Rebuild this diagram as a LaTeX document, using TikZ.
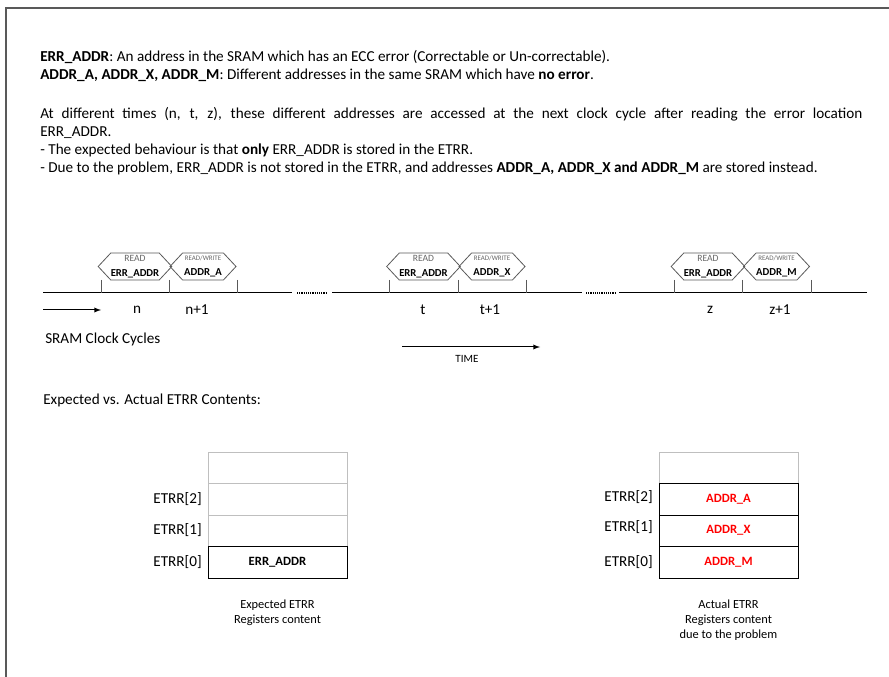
\documentclass[tikz,border=0pt]{standalone}
\usepackage{fontspec}
\setmainfont{Carlito}
\usetikzlibrary{shapes.symbols}

\newlength{\du}
\setlength{\du}{0.75pt}

\definecolor{framegray}{rgb}{0.35, 0.35, 0.35}
\definecolor{taggray}{rgb}{0.40, 0.40, 0.40}
\definecolor{cellgray}{rgb}{0.75, 0.75, 0.75}
\definecolor{addrred}{rgb}{1.00, 0.00, 0.00}

\newcommand{\readtag}{{\fontsize{7.2}{7}\selectfont\mdseries\color{taggray}READ}}
\newcommand{\rwtag}{{\fontsize{5.2}{6}\selectfont\mdseries\color{taggray}READ/WRITE}}

\tikzset{
  note/.style={anchor=base west, inner sep=0pt, font=\fontsize{11.4}{13}\selectfont},
  frameline/.style={draw=framegray, line width=1.5\du},
  timeline/.style={draw=black, line width=1\du},
  gapdots/.style={draw=black, line width=1.3\du, dash pattern=on 1.2\du off 1\du},
  tick/.style={draw=framegray, line width=1\du},
  hexcell/.style={signal, signal to=west and east, signal pointer angle=94,
    draw=framegray, line width=0.8\du, minimum width=66\du, minimum height=27\du,
    inner sep=0pt, align=center, font=\fontsize{8}{11}\selectfont\bfseries},
  cyclelbl/.style={inner sep=0pt, font=\fontsize{11.4}{13}\selectfont},
  regcell/.style={draw, line width=1\du, minimum width=139\du, minimum height=31.5\du,
    inner sep=0pt, font=\fontsize{9.5}{11}\selectfont\bfseries},
  reglbl/.style={anchor=east, inner sep=0pt, font=\fontsize{11.4}{13}\selectfont},
  caption/.style={anchor=north, inner sep=0pt, align=center, font=\fontsize{9.3}{11.25}\selectfont},
}

\begin{document}
\begin{tikzpicture}
\pgftransformxscale{1.000000}
\pgftransformyscale{-1.000000}
\useasboundingbox (0\du,0\du) rectangle (889\du,677\du);
% outer frame, open to the right and bottom
\draw[frameline] (6\du,677\du)--(6\du,8\du)--(889\du,8\du);

% notes
\node[note] (noteerr) at (40\du,62\du){\textbf{ERR\_ADDR}: An address in the SRAM which has an ECC error (Correctable or Un-correctable).};
\node[note] (noteok) at (40\du,80\du){\textbf{ADDR\_A, ADDR\_X, ADDR\_M}: Different addresses in the same SRAM which have \textbf{no error}.};
\node[note] (notetime) at (40\du,119\du){\makebox[822\du][s]{At different times (n, t, z), these different addresses are accessed at the next clock cycle after reading the error location}};
\node[note] (notetimeb) at (40\du,137\du){ERR\_ADDR.};
\node[note] (noteexp) at (40\du,155\du){- The expected behaviour is that \textbf{only} ERR\_ADDR is stored in the ETRR.};
\node[note] (noteprob) at (40\du,173\du){- Due to the problem, ERR\_ADDR is not stored in the ETRR, and addresses \textbf{ADDR\_A, ADDR\_X and ADDR\_M} are stored instead.};

% clock line
\coordinate (ta0) at (43\du,293\du);
\coordinate (ta1) at (292\du,293\du);
\coordinate (da0) at (297\du,293\du);
\coordinate (da1) at (327\du,293\du);
\coordinate (tb0) at (332\du,293\du);
\coordinate (tb1) at (582\du,293\du);
\coordinate (db0) at (586\du,293\du);
\coordinate (db1) at (616\du,293\du);
\coordinate (tc0) at (619\du,293\du);
\coordinate (tc1) at (867\du,293\du);
\draw[timeline] (ta0)--(ta1);
\draw[gapdots] (da0)--(da1);
\draw[timeline] (tb0)--(tb1);
\draw[gapdots] (db0)--(db1);
\draw[timeline] (tc0)--(tc1);
\foreach \k/\x in {1/101,2/169,3/237,4/389,5/458,6/526,7/674,8/742,9/811}{
  \coordinate (tick\k) at (\x\du,280\du);
  \draw[tick] (tick\k)--(tick\k |- ta0);
}

% accesses
\node[hexcell] (rdn) at (135\du,266.5\du){\readtag\\ERR\_ADDR};
\node[hexcell] (rwn) at (203\du,266.5\du){\rwtag\\ADDR\_A};
\node[hexcell] (rdt) at (423.5\du,266.5\du){\readtag\\ERR\_ADDR};
\node[hexcell] (rwt) at (492\du,266.5\du){\rwtag\\ADDR\_X};
\node[hexcell] (rdz) at (708\du,266.5\du){\readtag\\ERR\_ADDR};
\node[hexcell] (rwz) at (776.5\du,266.5\du){\rwtag\\ADDR\_M};

\node[cyclelbl] (cn) at (137\du,310\du){n};
\node[cyclelbl] (cn1) at (197\du,310\du){n+1};
\node[cyclelbl] (ct) at (423\du,310\du){t};
\node[cyclelbl] (ct1) at (490\du,310\du){t+1};
\node[cyclelbl] (cz) at (710\du,310\du){z};
\node[cyclelbl] (cz1) at (780\du,310\du){z+1};

\coordinate (clk0) at (43\du,310\du);
\coordinate (clk1) at (101\du,310\du);
\draw[timeline, -latex] (clk0)--(clk1);
\node[cyclelbl, anchor=west] (sramclk) at (45\du,339\du){SRAM Clock Cycles};

\coordinate (time0) at (402\du,347\du);
\coordinate (time1) at (540\du,347\du);
\draw[timeline, -latex] (time0)--(time1);
\node[cyclelbl, font=\fontsize{8.3}{10}\selectfont] (timelbl) at (467\du,359\du){TIME};

\node[note] (etrrhead) at (43\du,404\du){Expected vs. Actual ETRR Contents:};

% expected registers
\node[regcell, draw=cellgray] (exp3) at (277.5\du,467.75\du){};
\node[regcell, draw=cellgray] (exp2) at (277.5\du,499.25\du){};
\node[regcell, draw=cellgray] (exp1) at (277.5\du,530.75\du){};
\node[regcell, draw=black] (exp0) at (277.5\du,562.25\du){ERR\_ADDR};
\node[reglbl] (expl2) at (202\du,499\du){ETRR[2]};
\node[reglbl] (expl1) at (202\du,530\du){ETRR[1]};
\node[reglbl] (expl0) at (202\du,562\du){ETRR[0]};
\node[caption] (expcap) at (277.5\du,600\du){Expected ETRR\\Registers content};

% actual registers
\node[regcell, draw=cellgray] (act3) at (728.5\du,467.75\du){};
\node[regcell, draw=black, text=addrred] (act2) at (728.5\du,499.25\du){ADDR\_A};
\node[regcell, draw=black, text=addrred] (act1) at (728.5\du,530.75\du){ADDR\_X};
\node[regcell, draw=black, text=addrred] (act0) at (728.5\du,562.25\du){ADDR\_M};
\node[reglbl] (actl2) at (653\du,497\du){ETRR[2]};
\node[reglbl] (actl1) at (653\du,527\du){ETRR[1]};
\node[reglbl] (actl0) at (653\du,562\du){ETRR[0]};
\node[caption] (actcap) at (728.5\du,600\du){Actual ETRR\\Registers content\\due to the problem};
\end{tikzpicture}
\end{document}
